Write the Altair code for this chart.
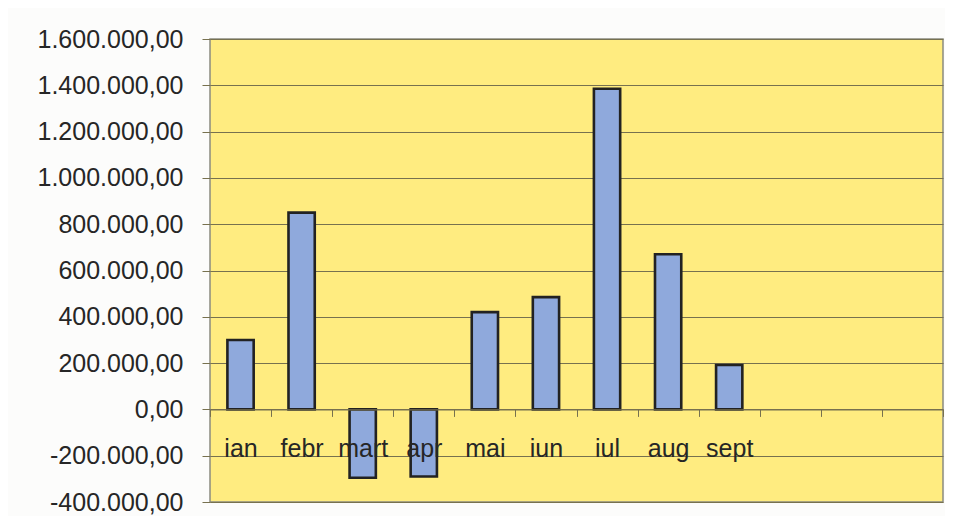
import altair as alt
import pandas as pd

months = ["ian", "febr", "mart", "apr", "mai", "iun", "iul", "aug", "sept", "oct", "noi", "dec"]
values = [300000, 850000, -295000, -290000, 420000, 485000, 1385000, 670000, 192000, None, None, None]
y_ticks = [-400000, -200000, 0, 200000, 400000, 600000, 800000, 1000000, 1200000, 1400000, 1600000]
empty_months = ["oct", "noi", "dec"]

df = pd.DataFrame({"luna": months, "valoare": values})

W, H = 733, 463
ymin, ymax = -400000, 1600000
zero_offset = -H * (0 - ymin) / (ymax - ymin)

grid = "#77714f"
text_color = "#262626"
label_expr = "indexof(" + str(empty_months) + ", datum.value) >= 0 ? '' : datum.label"

chart = (
    alt.Chart(df)
    .mark_bar(
        width=alt.RelativeBandSize(0.43),
        color="#8fa9dc",
        stroke="#222222",
        strokeWidth=2.6,
    )
    .encode(
        x=alt.X(
            "luna:N",
            sort=months,
            scale=alt.Scale(domain=months, paddingInner=0, paddingOuter=0),
            axis=alt.Axis(
                title=None,
                labelAngle=0,
                labelExpr=label_expr,
                offset=zero_offset,
                tickBand="extent",
                tickSize=7,
                tickColor=grid,
                domainColor=grid,
                domainWidth=1.2,
                labelPadding=40,
                labelBaseline="alphabetic",
                labelFont="Liberation Sans",
                labelFontSize=25,
                labelColor=text_color,
                grid=False,
                zindex=1,
            ),
        ),
        y=alt.Y(
            "valoare:Q",
            scale=alt.Scale(domain=[ymin, ymax], nice=False, zero=False),
            axis=alt.Axis(
                title=None,
                values=y_ticks,
                format=",.2f",
                grid=True,
                gridColor=grid,
                gridWidth=1.2,
                tickColor=grid,
                tickSize=8,
                domain=False,
                labelPadding=19,
                labelFont="Liberation Sans",
                labelFontSize=25,
                labelColor=text_color,
            ),
        ),
    )
    .properties(
        width=W,
        height=H,
        autosize=alt.AutoSizeParams(type="none"),
        padding={"left": 202, "top": 31, "right": 2, "bottom": 14},
    )
    .configure(
        background="#fcfcfb",
        locale=alt.Locale(
            number=alt.NumberLocale(
                decimal=",", thousands=".", grouping=[3], currency=["", ""], minus="-"
            )
        ),
    )
    .configure_view(fill="#ffec80", stroke="#8a8a80", strokeWidth=1.5)
)

chart.save("out.html", embed_options={"renderer": "svg", "actions": False})
